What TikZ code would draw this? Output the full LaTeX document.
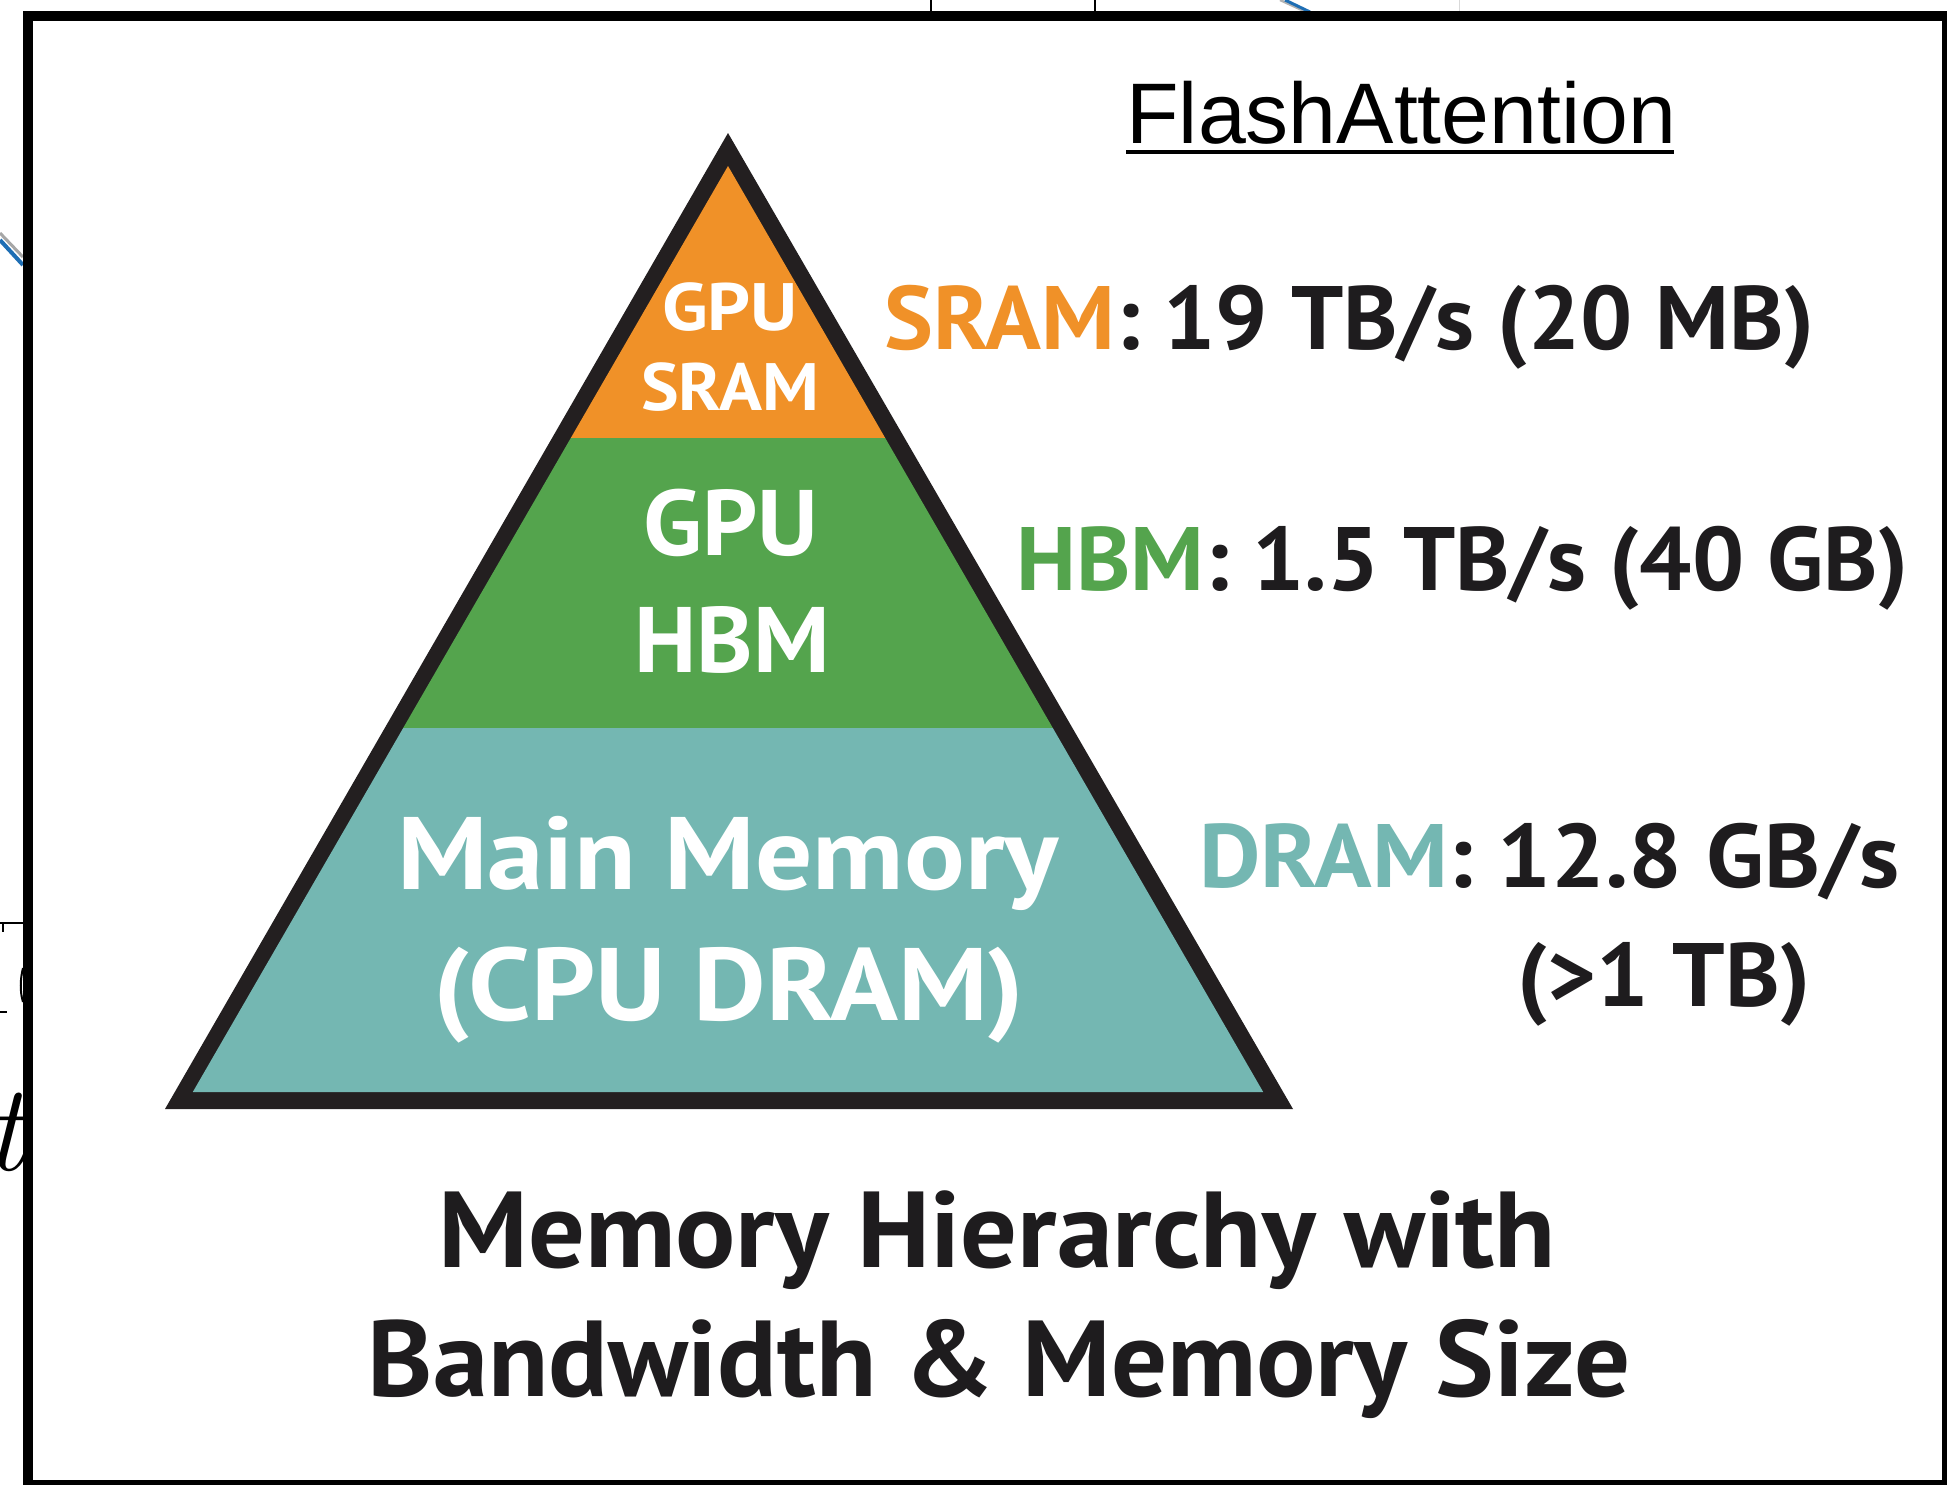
\documentclass[tikz,border=0pt]{standalone}
\usepackage{graphicx}
\usepackage{fontspec}
\newfontfamily\pts{PT Sans}
\newfontfamily\arialfont{Liberation Sans}
\definecolor{sramc}{RGB}{240,145,40}
\definecolor{hbmc}{RGB}{84,164,77}
\definecolor{dramc}{RGB}{116,183,178}
\definecolor{outl}{RGB}{35,31,32}
\definecolor{txtc}{RGB}{30,28,30}
\definecolor{artblue}{RGB}{30,110,180}
\tikzset{
  trilbl/.style={text=white, inner sep=0pt, anchor=base},
  rlbl/.style={text=txtc, inner sep=0pt, anchor=base west, font=\pts\bfseries\fontsize{45pt}{54pt}\selectfont},
  botlbl/.style={text=txtc, inner sep=0pt, anchor=base, font=\pts\bfseries\fontsize{54pt}{64pt}\selectfont},
  artline/.style={line width=1pt, black},
}
\begin{document}
\begin{tikzpicture}[x=0.5pt,y=-0.5pt]
\useasboundingbox (0,0) rectangle (1947,1484);
\fill[white] (0,0) rectangle (1947,1484);

% artifacts outside the frame
\draw[artline] (931,0) -- (931,12);
\draw[artline] (1095,0) -- (1095,12);
\draw[gray!60, line width=1.2pt] (1280,0) -- (1304,11);
\draw[artblue, line width=1.5pt] (1285,0) -- (1310,12);
\draw[gray!30, line width=0.5pt] (1459,0) -- (1459,12);
\draw[gray!70, line width=1.5pt] (0,233) -- (23,257);
\draw[artblue, line width=2pt] (0,240) -- (23,265);
\draw[artline] (0,923) -- (23,923);
\draw[artline] (3,923) -- (3,932);
\draw[artline] (0,1012) -- (7,1012);
\draw[artline] (23,968) .. controls (20,980) and (20,992) .. (23,1002);
\node[inner sep=0pt, anchor=base east, font=\itshape\fontsize{62pt}{62pt}\selectfont] (tcut) at (25,1170) {t};

% frame
\draw[line width=5.3pt, black] (28,16) rectangle (1947,1485);

% pyramid
\coordinate (apex) at (728,133);
\coordinate (bl) at (165,1109);
\coordinate (br) at (1293,1109);
\fill[outl] (apex) -- (bl) -- (br) -- cycle;
\begin{scope}
  \clip (728,166) -- (192.8,1092) -- (1263.2,1092) -- cycle;
  \fill[sramc] (0,0) rectangle (1947,438);
  \fill[hbmc] (0,438) rectangle (1947,728);
  \fill[dramc] (0,728) rectangle (1947,1200);
\end{scope}

% labels inside pyramid
\node[trilbl, font=\pts\bfseries\fontsize{33.5pt}{40pt}\selectfont] (gs1) at (730,330) {\scalebox{1.12}[1]{GPU}};
\node[trilbl, font=\pts\bfseries\fontsize{33.5pt}{40pt}\selectfont] (gs2) at (730,410) {\scalebox{1.06}[1]{SRAM}};
\node[trilbl, font=\pts\bfseries\fontsize{46.5pt}{56pt}\selectfont] (gh1) at (731,555) {\scalebox{1.04}[1]{GPU}};
\node[trilbl, font=\pts\bfseries\fontsize{46.5pt}{56pt}\selectfont] (gh2) at (732,672) {\scalebox{1.03}[1]{HBM}};
\node[trilbl, font=\pts\bfseries\fontsize{51.5pt}{62pt}\selectfont] (mm1) at (728,889) {\scalebox{1.10}[1]{Main Memory}};
\node[trilbl, font=\pts\bfseries\fontsize{51.5pt}{62pt}\selectfont] (mm2) at (729,1020) {\scalebox{1.09}[1]{(CPU DRAM)}};

% labels right
\node[rlbl] (sr) at (884,349) {\scalebox{1.025}[1]{\textcolor{sramc}{SRAM}: 19 TB/s (20 MB)}};
\node[rlbl] (hb) at (1016,590) {\scalebox{1.024}[1]{\textcolor{hbmc}{HBM}: 1.5 TB/s (40 GB)}};
\node[rlbl] (dr) at (1199,887) {\scalebox{1.055}[1]{\textcolor{dramc}{DRAM}: 12.8 GB/s}};
\node[rlbl] (dr2) at (1517,1006) {\scalebox{1.03}[1]{(>1 TB)}};

% bottom caption
\node[botlbl] (cap1) at (997,1267) {\scalebox{1.04}[1]{Memory Hierarchy with}};
\node[botlbl] (cap2) at (999,1396) {\scalebox{1.025}[1]{Bandwidth \& Memory Size}};

% title
\node[inner sep=0pt, anchor=base west, text=black, font=\arialfont\fontsize{43pt}{50pt}\selectfont] (fa) at (1126,143) {FlashAttention};
\draw[line width=1.85pt, black] (fa.base west) ++(0,9) -- ++(548,0);
\end{tikzpicture}
\end{document}
